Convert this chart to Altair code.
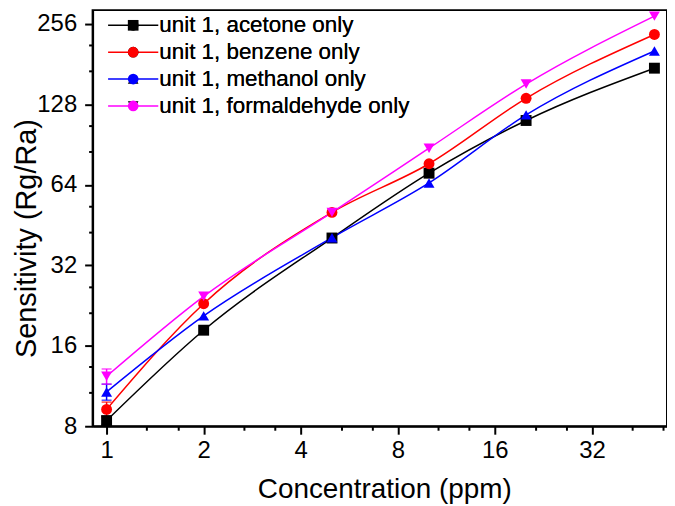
import altair as alt
import pandas as pd

# ---- data ----
conc = [1, 2, 5, 10, 20, 50]
series_names = [
    "unit 1, acetone only",
    "unit 1, benzene only",
    "unit 1, methanol only",
    "unit 1, formaldehyde only",
]
acetone = [8.4, 18.3, 40.5, 70.8, 111.5, 175.0]
benzene = [9.25, 23.0, 50.5, 76.8, 135.0, 234.0]
methanol = [10.75, 20.7, 40.6, 65.1, 117.0, 203.0]
formaldehyde = [12.3, 24.5, 50.5, 87.8, 152.6, 274.0]
err_at_1 = [0.3, 0.6, 0.74, 0.8]

colors = ["#000000", "#FF0000", "#0000FF", "#FF00FF"]
shapes = ["square", "circle", "triangle-up", "triangle-down"]

x_major = [1, 2, 4, 8, 16, 32]
x_minor = [1.333, 1.667, 2.667, 3.333, 5.333, 6.667, 10.667, 13.333,
           21.333, 26.667, 42.667, 53.333]
y_major = [8, 16, 32, 64, 128, 256]
y_minor = [10.667, 13.333, 21.333, 26.667, 42.667, 53.333, 85.333,
           106.667, 170.667, 213.333]

# ---- table ----
values = [acetone, benzene, methanol, formaldehyde]
rows = []
for i, name in enumerate(series_names):
    for j, c in enumerate(conc):
        rows.append({
            "series": name,
            "series2": name,
            "conc": c,
            "val": values[i][j],
            "err": err_at_1[i] if j == 0 else 0.0,
        })
df = pd.DataFrame(rows)

FONT = "Liberation Sans"
xscale = alt.Scale(type="log", base=2, domain=[0.905, 54.7], nice=False)
yscale = alt.Scale(type="log", base=2, domain=[8, 288.6], nice=False)

x_axis_major = alt.Axis(values=x_major, format="d", labelFontSize=24,
                        titleFontSize=28, tickSize=8, tickWidth=2,
                        domainWidth=2, labelPadding=4, titlePadding=14,
                        titleX=293,
                        grid=False, labelFlush=False, labelOverlap=False)
y_axis_major = alt.Axis(values=y_major, format="d", labelFontSize=24,
                        titleFontSize=29, tickSize=8, tickWidth=2,
                        domainWidth=2, labelPadding=8, titlePadding=-5,
                        titleY=229,
                        grid=False, labelFlush=False, labelOverlap=False)
x_axis_minor = alt.Axis(values=x_minor, labels=False, tickSize=4,
                        tickWidth=2, domain=False, grid=False, orient="bottom")
y_axis_minor = alt.Axis(values=y_minor, labels=False, tickSize=4,
                        tickWidth=2, domain=False, grid=False, orient="left")

LEG_X = 29.5
LEG_Y = 4
common_leg = dict(orient="none", legendX=LEG_X, legendY=LEG_Y, title=None,
                  symbolSize=115, labelFontSize=22.5, labelOffset=15,
                  labelLimit=0, padding=0, rowPadding=4, labelFont=FONT)

stroke_legend = alt.Legend(symbolType="M-4.7,0H4.7", symbolStrokeWidth=1.5,
                           labelColor="transparent", **common_leg)
fill_legend = alt.Legend(symbolStrokeWidth=0, labelColor="black", **common_leg)

base = alt.Chart(df)

lines = base.mark_line(strokeWidth=1.5, interpolate="monotone").encode(
    x=alt.X("conc:Q", scale=xscale, axis=x_axis_major, title="Concentration (ppm)"),
    y=alt.Y("val:Q", scale=yscale, axis=y_axis_major, title="Sensitivity (Rg/Ra)"),
    stroke=alt.Stroke("series2:N", sort=series_names,
                      scale=alt.Scale(range=colors), legend=stroke_legend),
)

err_base = base.transform_filter("datum.err > 0").transform_calculate(
    lo="datum.val - datum.err", hi="datum.val + datum.err")

err_color = alt.Color("series:N", sort=series_names,
                      scale=alt.Scale(range=colors), legend=None)

err_rule = err_base.mark_rule(strokeWidth=1.5).encode(
    x=alt.X("conc:Q", scale=xscale, axis=None),
    y=alt.Y("lo:Q", scale=yscale, axis=None),
    y2="hi:Q",
    color=err_color,
)
err_cap_hi = err_base.mark_tick(size=10, thickness=1.5, orient="horizontal").encode(
    x=alt.X("conc:Q", scale=xscale, axis=None),
    y=alt.Y("hi:Q", scale=yscale, axis=None),
    color=err_color,
)
err_cap_lo = err_base.mark_tick(size=10, thickness=1.5, orient="horizontal").encode(
    x=alt.X("conc:Q", scale=xscale, axis=None),
    y=alt.Y("lo:Q", scale=yscale, axis=None),
    color=err_color,
)

points = base.mark_point(filled=True, size=120, opacity=1, strokeWidth=0).encode(
    x=alt.X("conc:Q", scale=xscale, axis=x_axis_minor, title=None),
    y=alt.Y("val:Q", scale=yscale, axis=y_axis_minor, title=None),
    fill=alt.Fill("series:N", sort=series_names,
                  scale=alt.Scale(range=colors), legend=fill_legend),
    shape=alt.Shape("series:N", sort=series_names,
                    scale=alt.Scale(range=shapes), legend=fill_legend),
)

chart = alt.layer(lines, err_rule, err_cap_hi, err_cap_lo, points).resolve_axis(
    x="independent", y="independent"
).properties(
    width=577, height=418,
    padding={"left": 4, "top": 1, "right": 0, "bottom": 0},
    background="white",
).configure_axis(
    labelFont=FONT, titleFont=FONT, labelColor="black", titleColor="black",
    domainColor="black", tickColor="black", titleFontWeight="normal",
).configure_legend(
    labelFont=FONT,
).configure_view(
    stroke="black", strokeWidth=2,
)

chart.save("out.html", embed_options={"renderer": "svg", "actions": False})
